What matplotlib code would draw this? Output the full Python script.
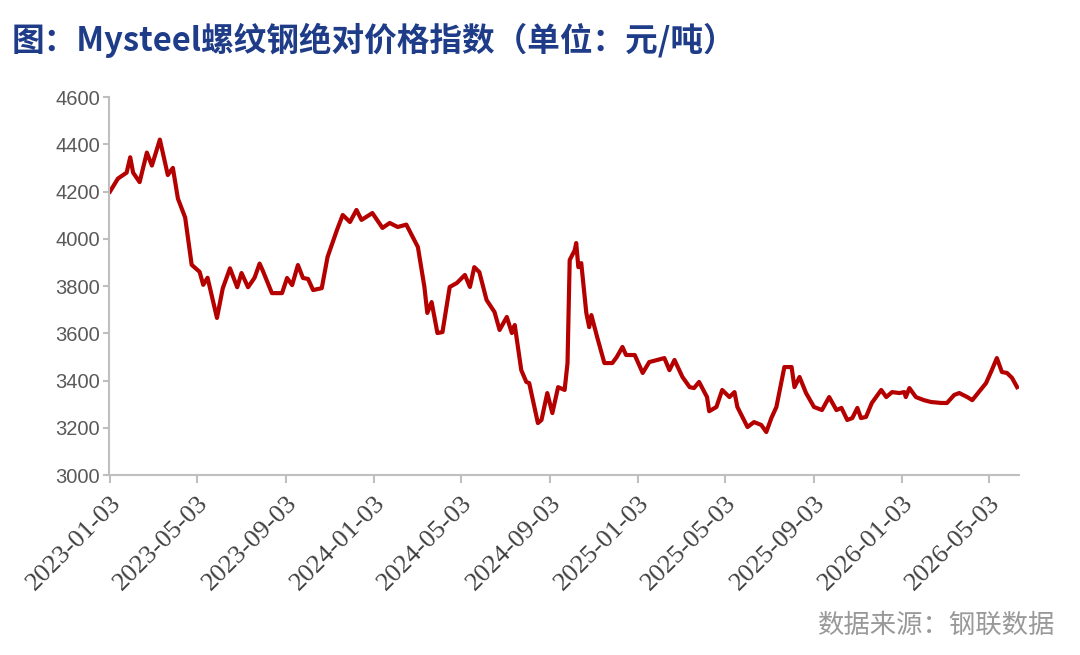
import matplotlib
matplotlib.use("Agg")
import matplotlib.pyplot as plt
import matplotlib.dates as mdates
import pandas as pd

# Mysteel螺纹钢绝对价格指数, 读图估计值 (元/吨)
dates = [
    "2023-01-03", "2023-01-14", "2023-01-26", "2023-01-31", "2023-02-04", "2023-02-13",
    "2023-02-23", "2023-03-02", "2023-03-13", "2023-03-24", "2023-03-31", "2023-04-07",
    "2023-04-17", "2023-04-26", "2023-05-07", "2023-05-12", "2023-05-18", "2023-05-31",
    "2023-06-08", "2023-06-18", "2023-06-28", "2023-07-04", "2023-07-13", "2023-07-22",
    "2023-07-29", "2023-08-02", "2023-08-15", "2023-08-29", "2023-09-05", "2023-09-12",
    "2023-09-20", "2023-09-27", "2023-10-04", "2023-10-11", "2023-10-23", "2023-10-31",
    "2023-11-13", "2023-11-21", "2023-12-01", "2023-12-10", "2023-12-17", "2024-01-01",
    "2024-01-15", "2024-01-25", "2024-02-05", "2024-02-17", "2024-03-04", "2024-03-13",
    "2024-03-17", "2024-03-23", "2024-03-31", "2024-04-07", "2024-04-17", "2024-04-27",
    "2024-05-08", "2024-05-15", "2024-05-21", "2024-05-28", "2024-06-07", "2024-06-18",
    "2024-06-25", "2024-07-05", "2024-07-12", "2024-07-16", "2024-07-25", "2024-08-01",
    "2024-08-05", "2024-08-17", "2024-08-22", "2024-08-30", "2024-09-06", "2024-09-14",
    "2024-09-23", "2024-09-27", "2024-09-30", "2024-10-07", "2024-10-09", "2024-10-12",
    "2024-10-16", "2024-10-23", "2024-10-27", "2024-10-30", "2024-11-07", "2024-11-17",
    "2024-11-28", "2024-12-04", "2024-12-12", "2024-12-17", "2024-12-29", "2025-01-09",
    "2025-01-18", "2025-02-08", "2025-02-15", "2025-02-22", "2025-03-05", "2025-03-15",
    "2025-03-21", "2025-03-28", "2025-04-08", "2025-04-11", "2025-04-21", "2025-04-29",
    "2025-05-09", "2025-05-16", "2025-05-20", "2025-06-03", "2025-06-12", "2025-06-22",
    "2025-06-29", "2025-07-06", "2025-07-13", "2025-07-24", "2025-08-03", "2025-08-07",
    "2025-08-14", "2025-08-23", "2025-09-03", "2025-09-14", "2025-09-24", "2025-10-04",
    "2025-10-11", "2025-10-19", "2025-10-26", "2025-11-02", "2025-11-07", "2025-11-14",
    "2025-11-22", "2025-12-05", "2025-12-12", "2025-12-20", "2025-12-30", "2026-01-06",
    "2026-01-08", "2026-01-13", "2026-01-22", "2026-02-02", "2026-02-12", "2026-02-26",
    "2026-03-06", "2026-03-16", "2026-03-23", "2026-04-03", "2026-04-10", "2026-04-19",
    "2026-04-29", "2026-05-07", "2026-05-14", "2026-05-21", "2026-05-28", "2026-06-04",
    "2026-06-11",
]
price = [
    4200, 4255, 4280, 4345, 4280, 4240,
    4365, 4310, 4420, 4270, 4300, 4170,
    4090, 3890, 3860, 3805, 3835, 3665,
    3790, 3875, 3795, 3855, 3795, 3835,
    3895, 3868, 3770, 3770, 3834, 3804,
    3889, 3834, 3830, 3783, 3791, 3923,
    4037, 4101, 4071, 4122, 4080, 4109,
    4046, 4067, 4050, 4060, 3965, 3796,
    3686, 3732, 3601, 3605, 3796, 3813,
    3847, 3796, 3880, 3859, 3741, 3690,
    3614, 3669, 3601, 3635, 3444, 3394,
    3389, 3220, 3233, 3347, 3262, 3372,
    3360, 3474, 3910, 3952, 3982, 3880,
    3897, 3686, 3626, 3677, 3584, 3474,
    3474, 3499, 3542, 3508, 3508, 3432,
    3478, 3495, 3444, 3487, 3415, 3372,
    3368, 3394, 3330, 3270, 3288, 3360,
    3330, 3351, 3288, 3203, 3224, 3212,
    3182, 3241, 3288, 3457, 3457, 3372,
    3415, 3347, 3288, 3275, 3330, 3275,
    3284, 3233, 3241, 3284, 3241, 3246,
    3305, 3360, 3330, 3351, 3347, 3351,
    3330, 3368, 3330, 3317, 3309, 3305,
    3305, 3339, 3347, 3330, 3317, 3351,
    3389, 3444, 3495, 3436, 3432, 3411,
    3372,
]
tick_dates = ["2023-01-03", "2023-05-03", "2023-09-03", "2024-01-03", "2024-05-03", "2024-09-03",
              "2025-01-03", "2025-05-03", "2025-09-03", "2026-01-03", "2026-05-03"]
yticks = [3000, 3200, 3400, 3600, 3800, 4000, 4200, 4400, 4600]

title = "图：Mysteel螺纹钢绝对价格指数（单位：元/吨）"
source = "数据来源：钢联数据"

cjk = ["Noto Sans CJK SC", "DejaVu Sans"]

df = pd.DataFrame({"date": pd.to_datetime(dates), "price": price})

fig = plt.figure(figsize=(10.8, 6.55), dpi=100)
ax = fig.add_axes([0.1005, 0.2748, 0.8426, 0.577])

ax.plot(df["date"], df["price"], color="#B50000", lw=3.0, solid_joinstyle="round")

ax.set_ylim(3000, 4600)
ax.set_xlim(pd.Timestamp("2023-01-01"), pd.Timestamp("2026-06-13"))
ax.set_yticks(yticks)
ax.set_xticks(pd.to_datetime(tick_dates))
ax.xaxis.set_major_formatter(mdates.DateFormatter("%Y-%m-%d"))

for lab in ax.get_xticklabels():
    lab.set_rotation(45)
    lab.set_ha("right")
    lab.set_rotation_mode("anchor")
    lab.set_fontfamily("Liberation Serif")
    lab.set_fontsize(19)
    lab.set_color("#404040")
for lab in ax.get_yticklabels():
    lab.set_fontfamily("Liberation Sans")
    lab.set_fontsize(14.5)
    lab.set_color("#595959")

for s in ["top", "right"]:
    ax.spines[s].set_visible(False)
for s in ["left", "bottom"]:
    ax.spines[s].set_color("#BFBFBF")
    ax.spines[s].set_linewidth(1.5)
ax.tick_params(axis="both", color="#BFBFBF", width=1.5, direction="out")
ax.tick_params(axis="x", length=6, pad=6)
ax.tick_params(axis="y", length=4, pad=2)

fig.text(0.011, 0.938, title, family=cjk, fontsize=23.5, fontweight="bold",
         color="#1F3C88", va="center", ha="left")
fig.text(0.977, 0.045, source, family=cjk, fontsize=19, color="#999999",
         va="center", ha="right")

fig.savefig("out.png", dpi=100)
